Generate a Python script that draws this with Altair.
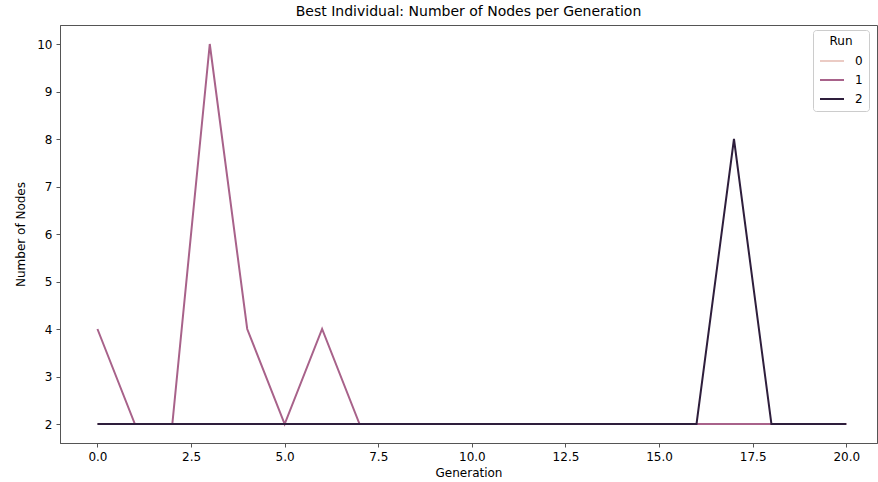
import altair as alt
import pandas as pd

generations = list(range(21))
run0 = [2] * 21
run1 = [4, 2, 2, 10, 4, 2, 4, 2, 2, 2, 2, 2, 2, 2, 2, 2, 2, 2, 2, 2, 2]
run2 = [2, 2, 2, 2, 2, 2, 2, 2, 2, 2, 2, 2, 2, 2, 2, 2, 2, 8, 2, 2, 2]
runs = ["0", "1", "2"]
colors = ["#ebcbc4", "#a8628a", "#2e1e3c"]

rows = []
for run, vals in zip(runs, [run0, run1, run2]):
    for g, v in zip(generations, vals):
        rows.append({"Generation": g, "Nodes": v, "Run": run})
df = pd.DataFrame(rows)

x_ticks = [0, 2.5, 5, 7.5, 10, 12.5, 15, 17.5, 20]
y_ticks = [2, 3, 4, 5, 6, 7, 8, 9, 10]

base = alt.Chart(df)
layers = []
for run, col in zip(runs, colors):
    layers.append(
        base.transform_filter(alt.datum.Run == run)
        .mark_line(strokeWidth=2, color=col, clip=True)
        .encode(
            x=alt.X("Generation:Q",
                    scale=alt.Scale(domain=[-1, 20.82], nice=False, zero=False),
                    axis=alt.Axis(values=x_ticks, format=".1f", title="Generation",
                                  grid=False)),
            y=alt.Y("Nodes:Q",
                    scale=alt.Scale(domain=[1.6, 10.4], nice=False, zero=False),
                    axis=alt.Axis(values=y_ticks, format="d", title="Number of Nodes",
                                  grid=False)),
            color=alt.Color("Run:N",
                            scale=alt.Scale(domain=runs, range=colors),
                            legend=alt.Legend(
                                title="Run", orient="none", legendX=753, legendY=5,
                                symbolType="stroke", symbolStrokeWidth=2, symbolSize=576,
                                strokeColor="#cccccc", cornerRadius=3, padding=6,
                                fillColor="white", titleAnchor="middle", titlePadding=0,
                                titleFontWeight="normal", titleFontSize=12,
                                labelFontSize=12, rowPadding=-5, labelOffset=10)),
        )
    )

chart = alt.layer(*layers).properties(
    width=817, height=418,
    title=alt.TitleParams("Best Individual: Number of Nodes per Generation",
                          fontSize=14, fontWeight="normal", anchor="middle",
                          offset=6, font="DejaVu Sans", color="black"),
    autosize=alt.AutoSizeParams(type="none"),
    padding={"left": 60, "top": 25, "right": 1, "bottom": 39},
).configure_view(
    stroke="#555555", strokeWidth=1
).configure_axis(
    domainColor="#555555", tickColor="#555555", tickSize=4,
    labelFont="DejaVu Sans", labelFontSize=12, labelColor="black",
    titleFont="DejaVu Sans", titleFontSize=12, titleFontWeight="normal",
    titleColor="black", labelPadding=4,
).configure_axisX(titlePadding=5).configure_axisY(titlePadding=9).configure_legend(
    labelFont="DejaVu Sans", titleFont="DejaVu Sans", labelColor="black", titleColor="black"
)

chart.save("out.html", embed_options={"renderer": "svg", "actions": False})
